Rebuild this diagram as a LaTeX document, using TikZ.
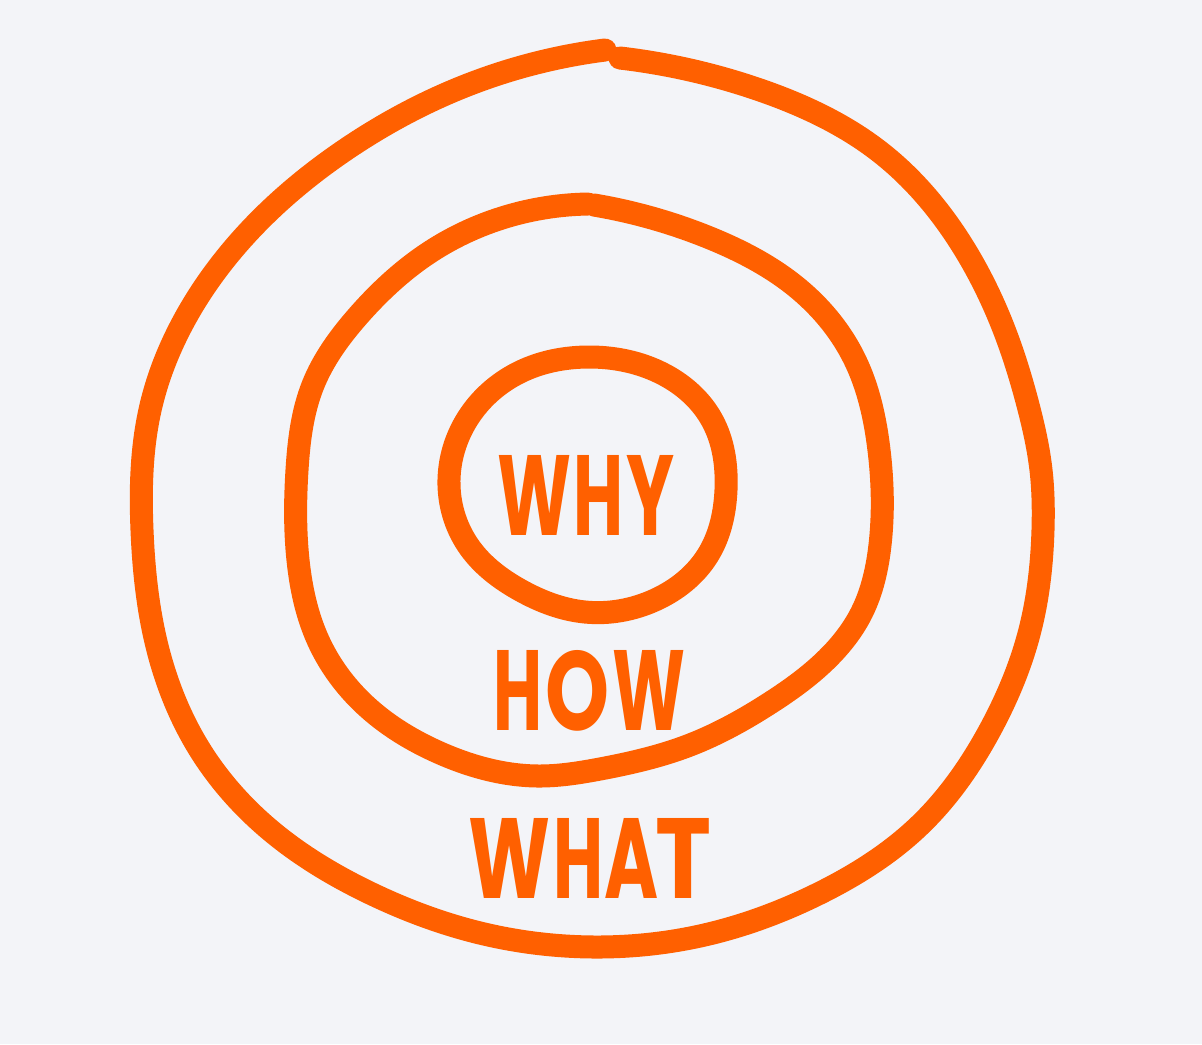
\documentclass[tikz,border=0pt]{standalone}
\usepackage{fontspec}
\usepackage{graphicx}
\usetikzlibrary{hobby}
\newfontfamily\handfont{Poppins}
\definecolor{ringorange}{RGB}{255,96,0}
\definecolor{bgpaper}{RGB}{243,244,248}
\newcommand\hglyph[2]{\resizebox{#1}{0.80cm}{#2}}
\tikzset{
  ring/.style={draw=ringorange, line width=0.23cm, line cap=round, line join=round, use Hobby shortcut},
  lbl/.style={anchor=base west, inner sep=0pt, outer sep=0pt, text=ringorange, font=\handfont\bfseries}
}
\begin{document}
\begin{tikzpicture}[x=0.01cm, y=-0.01cm]
\fill[bgpaper] (0,0) rectangle (1202,1044);
\useasboundingbox (0,0) rectangle (1202,1044);
% outer ring (open at the top)
\draw[ring] (620,58) .. (760,90) .. (880,152) .. (962,245) .. (1008,340) .. (1028,405)
 .. (1041,470) .. (1043,530) .. (1030,630) .. (990,730) .. (920,825) .. (820,893) .. (700,936)
 .. (595,947) .. (480,933) .. (370,893) .. (270,830) .. (200,750) .. (158,650)
 .. (142,530) .. (150,410) .. (190,310) .. (255,225) .. (345,150) .. (460,88) .. (605,50);
% middle ring
\draw[ring] (594,205) .. (710,238) .. (800,290) .. (855,360) .. (879,450) .. (880,545)
 .. (862,612) .. (830,656) .. (770,703) .. (690,745) .. (600,769) .. (540,776) .. (440,753)
 .. (365,705) .. (318,640) .. (298,560) .. (297,470) .. (313,385) .. (358,316)
 .. (430,252) .. (512,215) .. (588,204);
% inner ring
\draw[ring, closed=true] (587,357) .. (665,375) .. (712,420) .. (726,490)
 .. (708,555) .. (655,600) .. (585,612) .. (520,590) .. (470,548) .. (449,485)
 .. (470,415) .. (520,372);
% labels
\node[lbl] (why) at (497,535) {\hglyph{0.74cm}{W}\hspace{0.02cm}\hglyph{0.50cm}{H}\hspace{0.03cm}\hglyph{0.48cm}{Y}};
\node[lbl] (how) at (493,730) {\hglyph{0.49cm}{H}\hspace{0.03cm}\hglyph{0.64cm}{O}\hspace{0.03cm}\hglyph{0.73cm}{W}};
\node[lbl] (what) at (468,898) {\hglyph{0.82cm}{W}\hspace{0.03cm}\hglyph{0.50cm}{H}\hspace{0.01cm}\hglyph{0.54cm}{A}\hspace{-0.03cm}\hglyph{0.56cm}{T}};
\end{tikzpicture}
\end{document}
